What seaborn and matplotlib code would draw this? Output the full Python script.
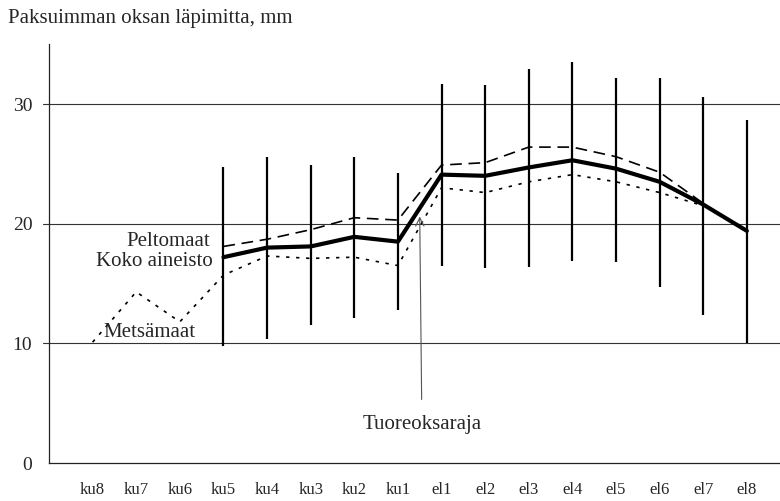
import numpy as np
import pandas as pd
import matplotlib
matplotlib.use('Agg')
import matplotlib.pyplot as plt
import seaborn as sns

## ============================================================= ##

categories = ['ku8', 'ku7', 'ku6', 'ku5', 'ku4', 'ku3', 'ku2', 'ku1',
              'el1', 'el2', 'el3', 'el4', 'el5', 'el6', 'el7', 'el8']

koko = [np.nan, np.nan, np.nan, 17.2, 18.0, 18.1, 18.9, 18.5,
        24.1, 24.0, 24.7, 25.3, 24.6, 23.5, 21.6, 19.4]
pelto = [np.nan, np.nan, np.nan, 18.1, 18.7, 19.5, 20.5, 20.3,
         24.9, 25.1, 26.4, 26.4, 25.6, 24.3, 21.7, np.nan]
metsa = [10.1, 14.3, 11.8, 15.7, 17.3, 17.1, 17.2, 16.5,
         23.0, 22.6, 23.5, 24.1, 23.5, 22.6, 21.5, np.nan]

range_low = [np.nan, np.nan, np.nan, 9.8, 10.4, 11.5, 12.1, 12.8,
             16.5, 16.3, 16.4, 16.9, 16.8, 14.7, 12.4, 10.0]
range_high = [np.nan, np.nan, np.nan, 24.7, 25.6, 24.9, 25.6, 24.2,
              31.7, 31.6, 32.9, 33.5, 32.2, 32.2, 30.6, 28.7]

## ============================================================= ##

sns.set_style('white')
plt.rcParams['font.family'] = ['Liberation Serif', 'DejaVu Serif']

pos = np.arange(len(categories))
df = pd.DataFrame({'pos': pos, 'koko': koko, 'pelto': pelto, 'metsa': metsa,
                   'low': range_low, 'high': range_high})

fig = plt.figure(figsize=(7.8, 5.01), dpi=100)
ax = fig.add_axes([0.0628, 0.0758, 0.9372, 0.836])

# gridlines
for g in [10, 20, 30]:
	ax.axhline(g, xmin=-0.008, xmax=1.0, color='#333333', lw=0.8, clip_on=False)

# range bars
bars = df.dropna(subset=['low'])
ax.vlines(bars['pos'], bars['low'], bars['high'], color='black', lw=1.6)

# lines
sns.lineplot(data=df, x='pos', y='pelto', ax=ax, color='black', lw=1.2,
             dashes=False, linestyle=(0, (7, 4)))
sns.lineplot(data=df, x='pos', y='metsa', ax=ax, color='black', lw=1.2,
             linestyle=(0, (2, 4)))
sns.lineplot(data=df, x='pos', y='koko', ax=ax, color='black', lw=3)

# labels on lines
ax.text(2.7, 18.5, 'Peltomaat', ha='right', va='center', fontsize=15)
ax.text(2.75, 16.8, 'Koko aineisto', ha='right', va='center', fontsize=15)
ax.text(2.35, 10.9, 'Metsämaat', ha='right', va='center', fontsize=15)

# Tuoreoksaraja marker
ax.annotate('Tuoreoksaraja', xy=(7.5, 20.6), xytext=(7.55, 3.2),
            ha='center', va='center', fontsize=15,
            arrowprops=dict(arrowstyle='->', color='#555555', lw=0.8,
                            shrinkA=9, shrinkB=0))

ax.set_xlim(-1, 15.76)
ax.set_ylim(0, 35)
ax.set_xticks(pos)
ax.set_xticklabels(categories, fontsize=12)
ax.set_yticks([0, 10, 20, 30])
ax.set_yticklabels(['0', '10', '20', '30'], fontsize=14)
ax.tick_params(axis='x', direction='in', length=5, width=0.8, pad=14, color='black')
ax.tick_params(axis='y', length=0, pad=12)
ax.set_xlabel('')
ax.set_ylabel('')

sns.despine(ax=ax, top=True, right=True)
ax.spines['left'].set_color('#222222')
ax.spines['left'].set_linewidth(0.9)
ax.spines['bottom'].set_color('#222222')
ax.spines['bottom'].set_linewidth(0.9)

fig.text(0.01, 0.963, 'Paksuimman oksan läpimitta, mm', fontsize=15, ha='left', va='center')

fig.savefig('out.png', dpi=100)
